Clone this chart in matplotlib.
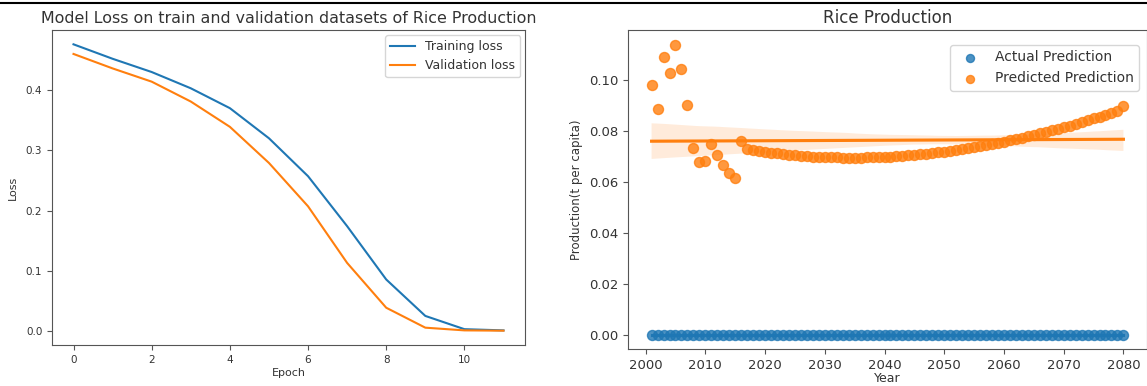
import matplotlib
matplotlib.use("Agg")
import matplotlib.pyplot as plt
import numpy as np
import seaborn as sns
from matplotlib.lines import Line2D

# loss curves per epoch
epochs = list(range(12))
train_loss = [0.476, 0.452, 0.430, 0.403, 0.370, 0.320, 0.257, 0.174, 0.0855, 0.025, 0.003, 0.001]
val_loss = [0.460, 0.436, 0.414, 0.381, 0.339, 0.279, 0.207, 0.113, 0.0386, 0.0055, 0.001, 0.0005]

# rice production predictions
years = list(range(2001, 2081))
actual = [0.0] * len(years)
predicted = [
    0.0978, 0.0886, 0.1087, 0.1026, 0.1138, 0.1041, 0.0899, 0.0733, 0.0678, 0.0682,
    0.0747, 0.0704, 0.0664, 0.0633, 0.0613, 0.0759, 0.0728, 0.0725, 0.0722, 0.0718,
    0.0714, 0.0711, 0.0708, 0.0705, 0.0703, 0.0701, 0.0699, 0.0698, 0.0697, 0.0696,
    0.0695, 0.0695, 0.0694, 0.0694, 0.0694, 0.0694, 0.0695, 0.0695, 0.0696, 0.0697,
    0.0698, 0.0700, 0.0701, 0.0703, 0.0705, 0.0707, 0.0710, 0.0712, 0.0715, 0.0718,
    0.0721, 0.0724, 0.0728, 0.0731, 0.0735, 0.0739, 0.0743, 0.0748, 0.0752, 0.0757,
    0.0762, 0.0767, 0.0772, 0.0778, 0.0783, 0.0789, 0.0795, 0.0801, 0.0807, 0.0813,
    0.0820, 0.0827, 0.0834, 0.0841, 0.0848, 0.0855, 0.0862, 0.0870, 0.0878, 0.0896,
]

W, H = 1147, 386
text_col = "#333333"
plt.rcParams.update({
    "text.color": text_col,
    "axes.labelcolor": text_col,
    "xtick.color": "#555555",
    "ytick.color": "#555555",
    "xtick.labelcolor": text_col,
    "ytick.labelcolor": text_col,
    "axes.edgecolor": "#555555",
})

fig = plt.figure(figsize=(W / 100, H / 100), dpi=100)

# left: loss curves
ax1 = fig.add_axes([52 / W, 1 - 345 / H, 473 / W, 315 / H])
ax1.plot(epochs, train_loss, label="Training loss")
ax1.plot(epochs, val_loss, label="Validation loss")
ax1.set_title("Model Loss on train and validation datasets of Rice Production", fontsize=11.4, pad=5)
ax1.set_xlabel("Epoch", fontsize=8, labelpad=2)
ax1.set_ylabel("Loss", fontsize=8, labelpad=6)
ax1.tick_params(labelsize=7.5)
ax1.legend(fontsize=9, loc="upper right", borderaxespad=0.4)

# right: rice production
ax2 = fig.add_axes([628 / W, 1 - 349 / H, 519 / W, 319 / H])
sns.regplot(x=np.array(years), y=np.array(actual), ax=ax2, label="Actual Prediction",
            scatter_kws={"s": 52}, seed=0)
sns.regplot(x=np.array(years), y=np.array(predicted), ax=ax2, label="Predicted Prediction",
            scatter_kws={"s": 52}, seed=0)
ax2.set_title("Rice Production", fontsize=12, pad=5)
ax2.set_xlabel("Year", fontsize=9, labelpad=0)
ax2.set_ylabel("Production(t per capita)", fontsize=8.5, labelpad=4)
ax2.tick_params(labelsize=9.5)
ax2.legend(fontsize=10, loc="upper right", markerscale=0.8,
           bbox_to_anchor=(0.998, 0.975))

# screenshot border at the top
fig.add_artist(Line2D([0, 1], [1 - 3 / H, 1 - 3 / H], color="black", lw=1.5, transform=fig.transFigure))

fig.savefig("out.png", dpi=100)
